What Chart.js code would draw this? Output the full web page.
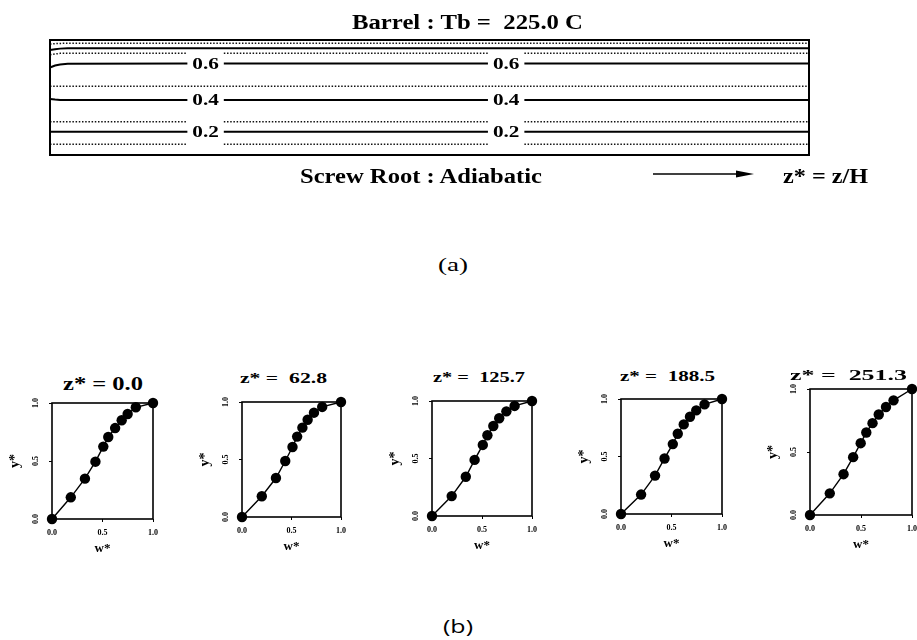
<!DOCTYPE html>
<html><head><meta charset="utf-8">
<script src="https://cdn.jsdelivr.net/npm/chart.js@4.4.1/dist/chart.umd.min.js"></script>
<style>
html,body{margin:0;padding:0;background:#fff;width:917px;height:640px;overflow:hidden;position:relative;}
.c{position:absolute;}
.t{position:absolute;white-space:pre;color:#000;font-family:"Liberation Serif","Times New Roman",serif;line-height:1;transform-origin:left center;}
</style></head><body>
<script>
// ================= DATA =================
// (a) contour panel: z* stations and y* position of each contour level
const contourZ = [0, 2, 4, 7, 300];
const level01 = [0.093, 0.093, 0.093, 0.093, 0.093];
const level02 = [0.203, 0.203, 0.203, 0.203, 0.203];
const level03 = [0.29, 0.29, 0.29, 0.29, 0.29];
const level04 = [0.487, 0.482, 0.478, 0.478, 0.478];
const level05 = [0.597, 0.597, 0.597, 0.597, 0.597];
const level06 = [0.761, 0.778, 0.787, 0.793, 0.796];
const level07 = [0.872, 0.878, 0.884, 0.884, 0.884];
const level08 = [0.913, 0.92, 0.925, 0.928, 0.928];
const level09 = [0.965, 0.968, 0.97, 0.972, 0.972];
const contourLabelZ = [61.5, 180.3];
const labelledLevels = ['0.2', '0.4', '0.6'];

// (b) velocity profiles w*(y*) at five axial stations
const profileTitles = ['z* = 0.0', 'z* =  62.8', 'z* =  125.7', 'z* =  188.5', 'z* =  251.3'];
const wStar_000 = [0, 0.186, 0.326, 0.43, 0.508, 0.557, 0.625, 0.69, 0.749, 0.83, 1.0];
const yStar_000 = [0, 0.187, 0.348, 0.494, 0.624, 0.707, 0.784, 0.851, 0.905, 0.963, 1.0];
const wStar_628 = [0, 0.2, 0.343, 0.437, 0.51, 0.557, 0.61, 0.663, 0.727, 0.81, 1.0];
const yStar_628 = [0, 0.18, 0.339, 0.487, 0.609, 0.699, 0.777, 0.846, 0.907, 0.957, 1.0];
const wStar_1257 = [0, 0.197, 0.338, 0.426, 0.508, 0.554, 0.613, 0.672, 0.744, 0.826, 1.0];
const yStar_1257 = [0, 0.173, 0.341, 0.488, 0.618, 0.702, 0.783, 0.85, 0.91, 0.957, 1.0];
const wStar_1885 = [0, 0.199, 0.337, 0.431, 0.513, 0.562, 0.621, 0.683, 0.745, 0.827, 1.0];
const yStar_1885 = [0, 0.169, 0.334, 0.483, 0.608, 0.698, 0.779, 0.846, 0.901, 0.953, 1.0];
const wStar_2513 = [0, 0.194, 0.329, 0.423, 0.497, 0.552, 0.613, 0.674, 0.745, 0.819, 1.0];
const yStar_2513 = [0, 0.172, 0.324, 0.459, 0.57, 0.655, 0.729, 0.798, 0.857, 0.91, 1.0];
const axisTicks = [0.0, 0.5, 1.0];

// ================= RENDER =================
const SERIF = '"Liberation Serif","Times New Roman",serif';
Chart.defaults.font.family = SERIF;
Chart.defaults.color = '#000';

const contourSets = [
  {name:'0.1', vals:level01, solid:false, gap:true},
  {name:'0.2', vals:level02, solid:true,  gap:true},
  {name:'0.3', vals:level03, solid:false, gap:true},
  {name:'0.4', vals:level04, solid:true,  gap:true},
  {name:'0.5', vals:level05, solid:false, gap:false},
  {name:'0.6', vals:level06, solid:true,  gap:true},
  {name:'0.7', vals:level07, solid:false, gap:true},
  {name:'0.8', vals:level08, solid:true,  gap:false},
  {name:'0.9', vals:level09, solid:false, gap:false}
];
const GAP_HALF = 7.2;
function contourPoints(vals, gap){
  const n = contourZ.length;
  const pts = [];
  for (let i = 0; i < n - 1; i++) pts.push({x: contourZ[i], y: vals[i]});
  const flat = vals[n - 1];
  if (gap) {
    contourLabelZ.forEach(z => {
      pts.push({x: z - GAP_HALF, y: flat});
      pts.push({x: z, y: null});
      pts.push({x: z + GAP_HALF, y: flat});
    });
  }
  pts.push({x: contourZ[n - 1], y: flat});
  return pts;
}

const topCanvas = document.createElement('canvas');
topCanvas.width = 917; topCanvas.height = 200; topCanvas.className = 'c';
topCanvas.style.left = '0px'; topCanvas.style.top = '0px';
document.body.appendChild(topCanvas);

const topPlugin = {
  id: 'topDecor',
  afterDraw(chart){
    const {ctx, chartArea: a, scales} = chart;
    ctx.save();
    ctx.strokeStyle = '#000'; ctx.lineWidth = 2;
    ctx.strokeRect(a.left, a.top, a.right - a.left, a.bottom - a.top);
    // contour labels
    ctx.fillStyle = '#000';
    ctx.font = 'bold 17px ' + SERIF;
    ctx.textAlign = 'center'; ctx.textBaseline = 'middle';
    labelledLevels.forEach(name => {
      const set = contourSets.find(s => s.name === name);
      const yv = set.vals[set.vals.length - 1];
      contourLabelZ.forEach(z => {
        const px = scales.x.getPixelForValue(z), py = scales.y.getPixelForValue(yv);
        ctx.save(); ctx.translate(px, py + 1); ctx.scale(1.25, 1);
        ctx.fillText(name, 0, 0); ctx.restore();
      });
    });
    // axial direction arrow
    ctx.lineWidth = 1.5;
    ctx.beginPath(); ctx.moveTo(653, 174); ctx.lineTo(740, 174); ctx.stroke();
    ctx.beginPath(); ctx.moveTo(736, 170.5); ctx.lineTo(754, 174); ctx.lineTo(736, 177.5); ctx.closePath(); ctx.fill();
    ctx.restore();
  }
};

new Chart(topCanvas, {
  type: 'scatter',
  data: {
    datasets: contourSets.map(s => ({
      label: s.name,
      data: contourPoints(s.vals, s.gap),
      showLine: true, spanGaps: false, tension: 0,
      borderColor: s.solid ? '#000' : '#111',
      borderWidth: s.solid ? 2 : 1.5,
      borderDash: s.solid ? [] : [1.5, 1.7],
      pointRadius: 0, clip: false
    }))
  },
  options: {
    responsive: false, animation: false, events: [],
    layout: {padding: {left: 50, top: 40, right: 108, bottom: 45}},
    plugins: {legend: {display: false}, tooltip: {enabled: false}},
    scales: {
      x: {type: 'linear', min: 0, max: 300, display: false},
      y: {type: 'linear', min: 0, max: 1, display: false}
    }
  },
  plugins: [topPlugin]
});

// ---- profile charts ----
const profiles = [
  {w: wStar_000, y: yStar_000},
  {w: wStar_628, y: yStar_628},
  {w: wStar_1257, y: yStar_1257},
  {w: wStar_1885, y: yStar_1885},
  {w: wStar_2513, y: yStar_2513}
];
const boxes = [
  {L:52, R:154, T:403, B:519},
  {L:242, R:342, T:402, B:517},
  {L:432, R:533, T:401, B:516},
  {L:621, R:723, T:399, B:514},
  {L:810, R:913, T:389, B:515}
];
const PAD = {left: 2, top: 8, right: 10, bottom: 2};
const YW = 45, XH = 37;

const profilePlugin = {
  id: 'profDecor',
  afterDraw(chart){
    const {ctx, chartArea: a, scales} = chart;
    ctx.save();
    ctx.strokeStyle = '#000'; ctx.lineWidth = 1.6;
    ctx.strokeRect(a.left, a.top, a.right - a.left, a.bottom - a.top);
    ctx.fillStyle = '#000';
    ctx.font = 'bold 8px ' + SERIF;
    ctx.textAlign = 'center'; ctx.textBaseline = 'middle';
    scales.y.ticks.forEach(t => {
      ctx.save();
      ctx.translate(a.left - 16, scales.y.getPixelForValue(t.value));
      ctx.rotate(-Math.PI / 2);
      ctx.fillText(t.value.toFixed(1), 0, 0);
      ctx.restore();
    });
    ctx.restore();
  }
};

profiles.forEach((p, i) => {
  const b = boxes[i];
  const cv = document.createElement('canvas');
  const W = (b.R - b.L) + PAD.left + YW + PAD.right;
  const H = (b.B - b.T) + PAD.top + XH + PAD.bottom;
  cv.width = W; cv.height = H; cv.className = 'c';
  cv.style.left = (b.L - YW - PAD.left) + 'px';
  cv.style.top = (b.T - PAD.top) + 'px';
  document.body.appendChild(cv);
  new Chart(cv, {
    type: 'scatter',
    data: {
      datasets: [{
        label: profileTitles[i],
        data: p.w.map((w, k) => ({x: w, y: p.y[k]})),
        showLine: true, tension: 0,
        borderColor: '#000', borderWidth: 1.4,
        pointRadius: 5.2, pointBackgroundColor: '#000', pointBorderWidth: 0,
        clip: false
      }]
    },
    options: {
      responsive: false, animation: false, events: [],
      layout: {padding: PAD},
      plugins: {legend: {display: false}, tooltip: {enabled: false}},
      scales: {
        x: {
          type: 'linear', min: 0, max: 1,
          afterFit: s => { s.height = XH; },
          afterBuildTicks: s => { s.ticks = axisTicks.map(v => ({value: v})); },
          ticks: {font: {size: 8, weight: 'bold'}, color: '#000', padding: 6, maxRotation: 0,
                  callback: v => Number(v).toFixed(1)},
          grid: {drawOnChartArea: false, drawTicks: true, tickLength: 3, color: '#000'},
          border: {display: false},
          title: {display: true, text: 'w*', font: {size: 13, weight: 'bold'}, color: '#000', padding: 0}
        },
        y: {
          type: 'linear', min: 0, max: 1,
          afterFit: s => { s.width = YW; },
          afterBuildTicks: s => { s.ticks = axisTicks.map(v => ({value: v})); },
          ticks: {display: false},
          grid: {drawOnChartArea: false, drawTicks: true, tickLength: 3, color: '#000'},
          border: {display: false},
          title: {display: true, text: 'y*', font: {size: 14, weight: 'bold'}, color: '#000', padding: 0}
        }
      }
    },
    plugins: [profilePlugin]
  });
});

// ---- captions (real text) ----
const texts = [
  {s: 'Barrel : Tb =  225.0 C', cx: 467, cy: 22, w: 231, size: 20, weight: 'bold'},
  {s: 'Screw Root : Adiabatic', cx: 421, cy: 176, w: 242, size: 20, weight: 'bold'},
  {s: 'z* = z/H', cx: 825, cy: 176, w: 85, size: 20, weight: 'bold'},
  {s: '(a)', cx: 453, cy: 265, w: 30, size: 18, weight: 'normal'},
  {s: '(b)', cx: 458, cy: 626, w: 30, size: 19, weight: 'normal', fam: '"Open Sans","DejaVu Sans",sans-serif'},
  {s: profileTitles[0], cx: 103, cy: 383, w: 80, size: 19, weight: 'bold'},
  {s: profileTitles[1], cx: 283, cy: 378, w: 87, size: 15, weight: 'bold'},
  {s: profileTitles[2], cx: 479, cy: 377, w: 92, size: 15, weight: 'bold'},
  {s: profileTitles[3], cx: 667, cy: 376, w: 95, size: 15, weight: 'bold'},
  {s: profileTitles[4], cx: 848, cy: 375, w: 117, size: 15, weight: 'bold'}
];
const els = texts.map(t => {
  const d = document.createElement('div');
  d.className = 't';
  d.textContent = t.s;
  d.style.fontSize = t.size + 'px';
  d.style.fontWeight = t.weight;
  if (t.fam) d.style.fontFamily = t.fam;
  d.style.left = (t.cx - t.w / 2) + 'px';
  d.style.top = (t.cy - t.size / 2) + 'px';
  document.body.appendChild(d);
  return {d, t};
});
function fitTexts(){
  els.forEach(({d, t}) => {
    d.style.transform = 'none';
    const w = d.getBoundingClientRect().width;
    if (w > 0) d.style.transform = 'scaleX(' + (t.w / w) + ')';
  });
}
fitTexts();
if (document.fonts && document.fonts.ready) document.fonts.ready.then(fitTexts);
</script>
</body></html>
